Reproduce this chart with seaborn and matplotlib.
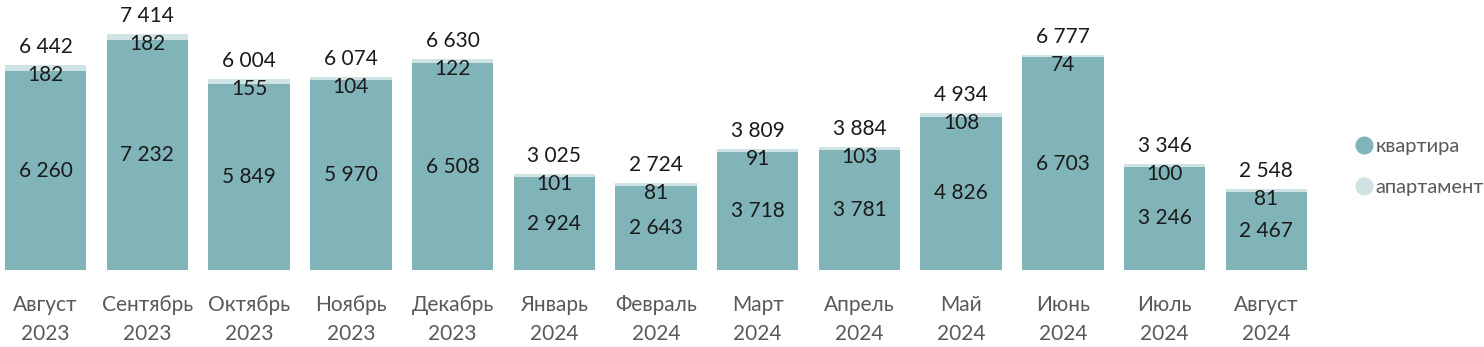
import matplotlib
matplotlib.use("Agg")
import matplotlib.pyplot as plt
import seaborn as sns
import pandas as pd
from matplotlib.lines import Line2D

months = ["Август\n2023", "Сентябрь\n2023", "Октябрь\n2023", "Ноябрь\n2023", "Декабрь\n2023",
          "Январь\n2024", "Февраль\n2024", "Март\n2024", "Апрель\n2024", "Май\n2024",
          "Июнь\n2024", "Июль\n2024", "Август\n2024"]
kvartira = [6260, 7232, 5849, 5970, 6508, 2924, 2643, 3718, 3781, 4826, 6703, 3246, 2467]
apartment = [182, 182, 155, 104, 122, 101, 81, 91, 103, 108, 74, 100, 81]

sns.set_theme(style="white")
plt.rcParams['font.family'] = ['Lato', 'DejaVu Sans']

C_KV = "#80B4B8"
C_AP = "#CFE3E4"
TXT = "#595959"

df = pd.DataFrame({"month": months, "kv": kvartira, "ap": apartment})
df["total"] = df["kv"] + df["ap"]

fig = plt.figure(figsize=(14.84, 3.47), dpi=100)
ax = fig.add_axes([5/1484, 77/347, (1307-5)/1484, 270/347])

sns.barplot(data=df, x="month", y="total", color=C_AP, width=0.8, saturation=1,
            linewidth=0, ax=ax)
sns.barplot(data=df, x="month", y="kv", color=C_KV, width=0.8, saturation=1,
            linewidth=0, ax=ax)

fmt = lambda v: f"{v:,}".replace(",", " ")
ppu = 8500 / 270  # data units per pixel
for i, (k, a) in enumerate(zip(kvartira, apartment)):
    t = k + a
    ax.text(i, k / 2, fmt(k), ha="center", va="center", fontsize=15, color="#1a1a1a")
    ax.text(i, t - 10 * ppu, fmt(a), ha="center", va="center", fontsize=15, color="#1a1a1a")
    ax.text(i, t + 18 * ppu, fmt(t), ha="center", va="center", fontsize=15, color="#1a1a1a")

ax.set_xlim(-0.4, 12.4)
ax.set_ylim(0, 8500)
ax.set_xlabel("")
ax.set_ylabel("")
ax.set_yticks([])
ax.tick_params(axis="x", length=0, pad=18, labelsize=15, labelcolor=TXT)
for lbl in ax.get_xticklabels():
    lbl.set_linespacing(1.55)
for s in ax.spines.values():
    s.set_visible(False)

handles = [Line2D([], [], marker="o", linestyle="", markersize=12, color=C_KV),
           Line2D([], [], marker="o", linestyle="", markersize=12, color=C_AP)]
leg = fig.legend(handles, ["квартира", "апартамент"], loc="center left",
                 bbox_to_anchor=(1336/1484, 1 - 167/347), frameon=False,
                 fontsize=14.5, labelcolor=TXT, handletextpad=0.05, labelspacing=1.15,
                 handlelength=1.0)

fig.savefig("out.png", dpi=100)
